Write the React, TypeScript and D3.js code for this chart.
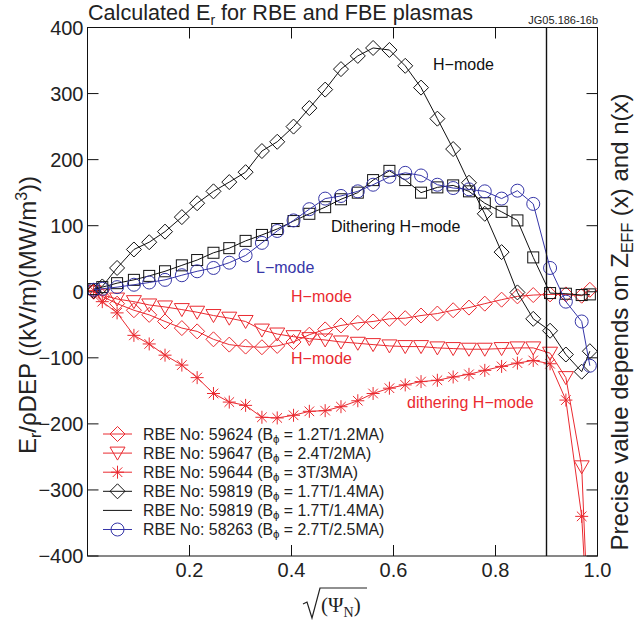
import React from 'react';
import * as d3 from 'd3';

// sqrt(Psi_N) sample positions shared by all profiles
const psi = [0.012, 0.029, 0.058, 0.091, 0.121, 0.152, 0.185, 0.215, 0.247, 0.278, 0.310,
  0.342, 0.372, 0.404, 0.435, 0.466, 0.497, 0.530, 0.560, 0.592, 0.623, 0.654, 0.686,
  0.717, 0.748, 0.779, 0.812, 0.843, 0.874, 0.907, 0.938, 0.969, 0.985];

// RBE 59624 (red diamonds)
const rbe59624 = [0, -7, -18, -28, -35, -45, -55, -60, -72, -80, -83, -84, -82, -76, -65, -57,
  -51, -47, -45, -41, -40, -36, -33, -28, -24, -18, -12, -7, -5, -4, -4, -6, 3];
// RBE 59647 (red triangles)
const rbe59647 = [0, -5, -11, -15, -20, -23, -27, -31, -36, -40, -45, -58, -64, -68, -71, -73,
  -76, -78, -80, -82, -83, -83, -85, -86, -87, -87, -86, -85, -85, -93, -130, -265, -560];
// RBE 59644 (red stars)
const rbe59644 = [2, -15, -32, -66, -79, -96, -111, -130, -154, -167, -172, -190, -191, -187,
  -181, -180, -174, -165, -154, -146, -141, -136, -134, -129, -125, -119, -113, -108, -104,
  -109, -164, -340, -560];
// RBE 59819 (black diamonds, H-mode)
const rbe59819 = [1, 8, 36, 64, 75, 91, 113, 134, 152, 166, 181, 213, 227, 250, 278, 306, 337,
  357, 369, 366, 342, 309, 262, 216, 165, 118, 60, -1, -41, -59, -95, -121, -90];
// Dithering H-mode (black squares)
const dithering = [4, 7, 13, 18, 24, 31, 40, 48, 59, 66, 77, 86, 95, 107, 118, 128, 140, 150,
  169, 183, 169, 150, 158, 161, 152, 134, 121, 108, 52, -2, -3, -5, -4];
// RBE 58263 (blue circles, L-mode)
const rbe58263 = [3, 4.5, 7, 10.6, 14, 18, 25, 31, 36, 44, 55, 74, 92, 108, 125, 141, 145, 152,
  162, 174, 180, 176, 162, 157, 155, 152, 141, 153, 133, 36, -15, -45, -112];

const xTicks = [0.2, 0.4, 0.6, 0.8, 1.0];
const yTicks = [-400, -300, -200, -100, 0, 100, 200, 300, 400];
const separatrix = 0.9;

const legendLabels = [
  ['RBE No: 59624 (B', ' = 1.2T/1.2MA)'],
  ['RBE No: 59647 (B', ' = 2.4T/2MA)'],
  ['RBE No: 59644 (B', ' = 3T/3MA)'],
  ['RBE No: 59819 (B', ' = 1.7T/1.4MA)'],
  ['RBE No: 59819 (B', ' = 1.7T/1.4MA)'],
  ['RBE No: 58263 (B', ' = 2.7T/2.5MA)'],
];

const RED = '#ea2a30';
const BLUE = '#3636a8';
const BLACK = '#111';
const FONT = '"Liberation Sans", Arial, Helvetica, sans-serif';

const W = 636, H = 626;
const L = 87.5, R = 597.5, T = 27.5, B = 556;

function Marker({ shape, cx, cy, color }: { shape: string; cx: number; cy: number; color: string }) {
  const p = { fill: 'none', stroke: color, strokeWidth: 1 };
  if (shape === 'diamond') {
    const s = 7.5;
    return <path d={`M${cx},${cy - s}L${cx + s},${cy}L${cx},${cy + s}L${cx - s},${cy}Z`} {...p} />;
  }
  if (shape === 'square') {
    const s = 5.5;
    return <rect x={cx - s} y={cy - s} width={2 * s} height={2 * s} {...p} />;
  }
  if (shape === 'circle') {
    return <circle cx={cx} cy={cy} r={6.5} {...p} />;
  }
  if (shape === 'tri') {
    return <path d={`M${cx - 7.5},${cy - 6}L${cx + 7.5},${cy - 6}L${cx},${cy + 7}Z`} {...p} />;
  }
  if (shape === 'star') {
    const s = 6.5, d = 4.8;
    return <path d={`M${cx - s},${cy}L${cx + s},${cy}M${cx},${cy - s}L${cx},${cy + s}M${cx - d},${cy - d}L${cx + d},${cy + d}M${cx - d},${cy + d}L${cx + d},${cy - d}`} {...p} />;
  }
  return null;
}

export default function App() {
  const x = d3.scaleLinear().domain([0, 1]).range([L, R]);
  const y = d3.scaleLinear().domain([-400, 400]).range([B, T]);
  const line = d3.line<[number, number]>().x(d => x(d[0])).y(d => y(d[1]));

  const series = [
    { vals: rbe59624, color: RED, shape: 'diamond' },
    { vals: rbe59647, color: RED, shape: 'tri' },
    { vals: rbe59644, color: RED, shape: 'star' },
    { vals: dithering, color: BLACK, shape: 'square' },
    { vals: rbe59819, color: BLACK, shape: 'diamond' },
    { vals: rbe58263, color: BLUE, shape: 'circle' },
  ];

  const legendItems = [
    { color: RED, shape: 'diamond' },
    { color: RED, shape: 'tri' },
    { color: RED, shape: 'star' },
    { color: BLACK, shape: 'diamond' },
    { color: BLACK, shape: 'none' },
    { color: BLUE, shape: 'circle' },
  ];

  const tickLen = 11;

  return (
    <svg width={W} height={H} style={{ position: 'absolute', left: 0, top: 0, background: '#fff' }} fontFamily={FONT}>
      <defs>
        <clipPath id="plotclip">
          <rect x={L} y={T} width={R - L} height={B - T} />
        </clipPath>
      </defs>
      <rect x={0} y={0} width={W} height={H} fill="#fff" />

      {/* ticks */}
      {xTicks.map(t => (
        <g key={'xt' + t}>
          <line x1={x(t)} x2={x(t)} y1={B} y2={B - tickLen} stroke={BLACK} strokeWidth={1} />
          <line x1={x(t)} x2={x(t)} y1={T} y2={T + tickLen} stroke={BLACK} strokeWidth={1} />
          <text x={x(t)} y={B + 21} fontSize={20} textAnchor="middle" fill="#222">{t.toFixed(1)}</text>
        </g>
      ))}
      {yTicks.map(t => (
        <g key={'yt' + t}>
          <line x1={L} x2={L + tickLen} y1={y(t)} y2={y(t)} stroke={BLACK} strokeWidth={1} />
          <line x1={R} x2={R - tickLen} y1={y(t)} y2={y(t)} stroke={BLACK} strokeWidth={1} />
          <text x={L - 4} y={y(t) + 7} fontSize={20} textAnchor="end" fill="#222">{t < 0 ? '\u2212' + Math.abs(t) : String(t)}</text>
        </g>
      ))}

      {/* data */}
      <g clipPath="url(#plotclip)">
        {series.map((s, i) => {
          const pts: [number, number][] = psi.map((p, j) => [p, s.vals[j]]);
          return (
            <g key={'s' + i}>
              <path d={line(pts) || ''} fill="none" stroke={s.color} strokeWidth={1} />
              {pts.map((p, j) => (
                <Marker key={j} shape={s.shape} cx={x(p[0])} cy={y(p[1])} color={s.color} />
              ))}
            </g>
          );
        })}
        <line x1={x(separatrix)} x2={x(separatrix)} y1={T} y2={B} stroke={BLACK} strokeWidth={1.4} />
      </g>

      {/* frame */}
      <rect x={L} y={T} width={R - L} height={B - T} fill="none" stroke={BLACK} strokeWidth={1} />

      {/* annotations */}
      <text x={433} y={70} fontSize={16} fill={BLACK}>H{'\u2212'}mode</text>
      <text x={331} y={232} fontSize={16} fill={BLACK}>Dithering H{'\u2212'}mode</text>
      <text x={256} y={273} fontSize={16} fill={BLUE}>L{'\u2212'}mode</text>
      <text x={291} y={302} fontSize={16} fill={RED}>H{'\u2212'}mode</text>
      <text x={291} y={364} fontSize={16} fill={RED}>H{'\u2212'}mode</text>
      <text x={407} y={408} fontSize={16} fill={RED}>dithering H{'\u2212'}mode</text>

      {/* legend */}
      {legendItems.map((it, i) => {
        const ly = 434 + i * 19.1;
        return (
          <g key={'lg' + i}>
            <line x1={103} x2={132} y1={ly} y2={ly} stroke={it.color} strokeWidth={1} />
            <Marker shape={it.shape} cx={117.5} cy={ly} color={it.color} />
            <text x={143} y={ly + 5.5} fontSize={15.8} fill="#222">
              {legendLabels[i][0]}
              <tspan fontSize={11.5} dy={3}>{'\u03D5'}</tspan>
              <tspan dy={-3}>{legendLabels[i][1]}</tspan>
            </text>
          </g>
        );
      })}

      {/* title */}
      <text x={88} y={20} fontSize={21.6} fill="#222">
        Calculated E<tspan fontSize={14} dy={5}>r</tspan><tspan dy={-5}> for RBE and FBE plasmas</tspan>
      </text>
      <text x={598} y={24} fontSize={11} textAnchor="end" fill="#222">JG05.186-16b</text>

      {/* y label */}
      <text transform="translate(36,315) rotate(-90)" fontSize={24} textAnchor="middle" fill="#222">
        E<tspan fontSize={16} dy={5}>r</tspan><tspan dy={-5}>/{'\u03C1'}DEP ((kV/m)(MW/m</tspan><tspan fontSize={16} dy={-9}>3</tspan><tspan dy={9}>))</tspan>
      </text>

      {/* right label */}
      <text transform="translate(628,322) rotate(-90)" fontSize={24} textAnchor="middle" fill="#222">
        Precise value depends on Z<tspan fontSize={16} dy={5}>EFF</tspan><tspan dy={-5}> (x) and n(x)</tspan>
      </text>

      {/* x label with radical */}
      <path d="M303,604 L307,602 L312,618 L320,588 L367,588" fill="none" stroke="#222" strokeWidth={1.2} />
      <text x={321} y={612} fontSize={21} fontFamily='"Liberation Serif", "Times New Roman", serif' fill="#222">
        ({'\u03A8'}<tspan fontSize={14} dy={5}>N</tspan><tspan dy={-5}>)</tspan>
      </text>
    </svg>
  );
}
